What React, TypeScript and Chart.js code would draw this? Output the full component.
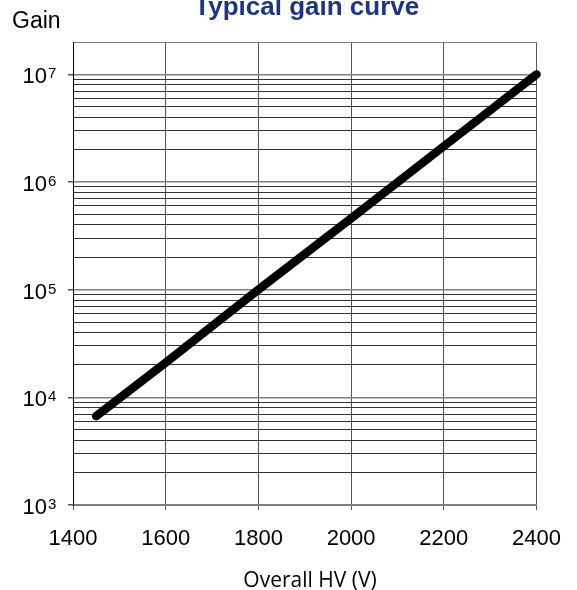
import { useEffect, useRef } from 'react';
import { Chart, registerables } from 'chart.js';
Chart.register(...registerables);

const hvVolts = [1450, 1600, 1800, 2000, 2200, 2400];
const gainValues = [6700, 21000, 100000, 460000, 2150000, 10000000];
const xTickValues = [1400, 1600, 1800, 2000, 2200, 2400];
const yDecades = [1e3, 1e4, 1e5, 1e6, 1e7];
const yDecadeBase = '10';
const yDecadeExponents = ['3', '4', '5', '6', '7'];
const yMin = 1e3;
const yMax = 2e7;
const chartTitle = 'Typical gain curve';
const yAxisLabel = 'Gain';
const xAxisLabel = 'Overall HV (V)';

const decadeIndex = (v: number) => yDecades.findIndex((d) => Math.abs(v / d - 1) < 1e-9);
const FONT = '"Liberation Sans", Arial, sans-serif';

export default function App() {
  const ref = useRef<HTMLCanvasElement | null>(null);
  useEffect(() => {
    if (!ref.current) return;
    const textPlugin = {
      id: 'texts',
      afterDraw(chart: any) {
        const { ctx, chartArea } = chart;
        const yScale = chart.scales.y;
        ctx.save();
        // title
        ctx.fillStyle = '#1F3580';
        ctx.font = `bold 26px ${FONT}`;
        ctx.textAlign = 'center';
        ctx.textBaseline = 'alphabetic';
        ctx.fillText(chartTitle, (chartArea.left + chartArea.right) / 2 + 2, 15);
        // y axis label
        ctx.fillStyle = '#000';
        ctx.font = `23px ${FONT}`;
        ctx.textAlign = 'left';
        ctx.fillText(yAxisLabel, 12, 28);
        // y decade labels with superscripts
        yDecades.forEach((d, i) => {
          const y = yScale.getPixelForValue(d);
          ctx.font = `22px ${FONT}`;
          ctx.textAlign = 'right';
          ctx.fillText(yDecadeBase, 47, y + 9);
          ctx.font = `15px ${FONT}`;
          ctx.textAlign = 'left';
          ctx.fillText(yDecadeExponents[i], 48, y + 4);
        });
        // x axis title
        ctx.font = '21px "Open Sans", sans-serif';
        ctx.textAlign = 'center';
        ctx.fillText(xAxisLabel, 310, 587);
        ctx.restore();
      },
    };
    const chart = new Chart(ref.current, {
      type: 'line',
      data: {
        datasets: [
          {
            data: hvVolts.map((x, i) => ({ x, y: gainValues[i] })),
            borderColor: '#000',
            borderWidth: 8.5,
            borderCapStyle: 'round',
            pointRadius: 0,
            tension: 0,
            clip: 8,
          } as any,
        ],
      },
      options: {
        animation: false,
        responsive: false,
        devicePixelRatio: 1,
        layout: { padding: { top: 42, right: 39, left: 0, bottom: 0 } },
        plugins: { legend: { display: false }, tooltip: { enabled: false }, title: { display: false } },
        scales: {
          x: {
            type: 'linear',
            min: 1400,
            max: 2400,
            afterBuildTicks: (scale: any) => {
              scale.ticks = xTickValues.map((v) => ({ value: v }));
            },
            afterFit: (scale: any) => {
              scale.height = 85;
            },
            grid: { color: '#555', lineWidth: 1, tickLength: 5, tickColor: '#555' },
            border: { color: '#7f7f7f', width: 2 },
            ticks: {
              autoSkip: false,
              maxRotation: 0,
              padding: 16,
              color: '#000',
              font: { family: FONT, size: 22 },
              callback: (v: any) => String(v),
            },
          },
          y: {
            type: 'logarithmic',
            min: yMin,
            max: yMax,
            afterBuildTicks: (scale: any) => {
              const t: any[] = [];
              yDecades.forEach((d) => {
                for (let m = 1; m <= 9; m++) {
                  const v = m * d;
                  if (v <= yMax * 1.0000001) t.push({ value: v });
                }
              });
              scale.ticks = t;
            },
            afterFit: (scale: any) => {
              scale.width = 73;
            },
            grid: {
              color: (c: any) => (decadeIndex(c.tick?.value) >= 0 || Math.abs(c.tick?.value / yMax - 1) < 1e-9 ? '#7f7f7f' : '#333'),
              lineWidth: (c: any) => (decadeIndex(c.tick?.value) >= 0 ? 1.5 : 1),
              tickLength: 5,
              tickColor: (c: any) => (decadeIndex(c.tick?.value) >= 0 ? '#555' : 'rgba(0,0,0,0)'),
            },
            border: { color: '#000', width: 1 },
            ticks: {
              autoSkip: false,
              padding: 12,
              color: '#000',
              font: { family: FONT, size: 22 },
              callback: () => '',
            },
          },
        },
      } as any,
      plugins: [textPlugin],
    });
    return () => chart.destroy();
  }, []);
  return (
    <div style={{ position: 'absolute', left: 0, top: 0, width: 577, height: 590 }}>
      <canvas ref={ref} width={577} height={590} style={{ display: 'block', width: 577, height: 590 }} />
    </div>
  );
}
